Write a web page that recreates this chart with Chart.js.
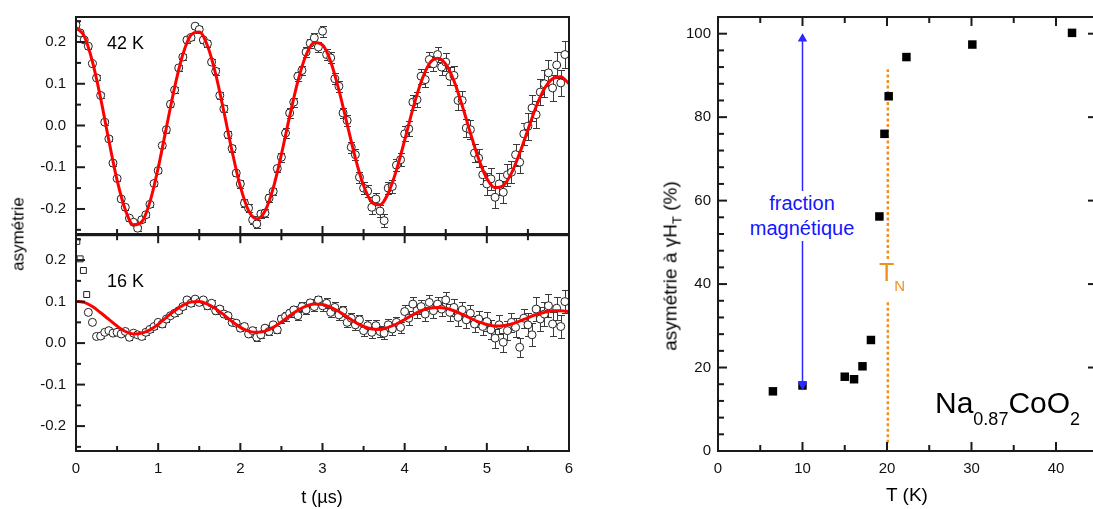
<!DOCTYPE html>
<html lang="fr">
<head>
<meta charset="UTF-8">
<title>Asymétrie µSR - Na0.87CoO2</title>
<script src="https://cdn.jsdelivr.net/npm/chart.js"></script>
<style>
  html, body { margin: 0; padding: 0; background: #fff; overflow: hidden; }
  body { width: 1093px; height: 509px; position: relative; font-family: "Liberation Sans", Arial, sans-serif; color: #000; }
  canvas { position: absolute; }
  .lbl { position: absolute; white-space: nowrap; line-height: 1; }
  .rot { transform: translate(-50%, -50%) rotate(-90deg); }
</style>
</head>
<body>
<canvas id="c42" width="580" height="240" style="left:0;top:0"></canvas>
<canvas id="c16" width="580" height="279" style="left:0;top:230px"></canvas>
<canvas id="cT" width="460" height="509" style="left:640px;top:0"></canvas>

<div class="lbl" style="left:107px;top:34px;font-size:18px">42 K</div>
<div class="lbl" style="left:107px;top:272px;font-size:18px">16 K</div>
<div class="lbl rot" style="left:18px;top:234px;font-size:17px">asymétrie</div>
<div class="lbl" style="left:322px;top:488px;font-size:18px;transform:translateX(-50%)">t (µs)</div>
<div class="lbl" style="left:907px;top:485px;font-size:19px;transform:translateX(-50%)">T (K)</div>
<div class="lbl rot" style="left:670px;top:266px;font-size:19px">asymétrie à γH<span style="font-size:13px;position:relative;top:5px">T</span> (%)</div>
<div class="lbl" style="left:879px;top:260px;font-size:25px;color:#f0901e">T<span style="font-size:15px;position:relative;top:10px">N</span></div>
<div class="lbl" style="left:802px;top:191px;font-size:20px;line-height:25px;color:#1515ff;background:#fff;text-align:center;transform:translateX(-50%)">fraction<br>magnétique</div>
<div class="lbl" style="left:935px;top:388px;font-size:30px">Na<span style="font-size:18px;position:relative;top:12px">0.87</span>CoO<span style="font-size:18px;position:relative;top:12px">2</span></div>

<script>
// ---- 42 K : asymétrie vs t (bins every 0.05 µs from t = 0) ----
const tStep = 0.05;
const asym42 = [
  0.241, 0.222, 0.205, 0.190, 0.148, 0.114, 0.072, 0.008, -0.032, -0.090,
  -0.127, -0.176, -0.196, -0.222, -0.232, -0.246, -0.226, -0.214, -0.189, -0.139,
  -0.108, -0.048, -0.010, 0.051, 0.085, 0.138, 0.164, 0.205, 0.211, 0.238,
  0.230, 0.205, 0.196, 0.152, 0.130, 0.072, 0.040, -0.022, -0.055, -0.114,
  -0.140, -0.186, -0.198, -0.226, -0.236, -0.212, -0.210, -0.174, -0.158, -0.103,
  -0.076, -0.018, 0.030, 0.056, 0.118, 0.132, 0.176, 0.197, 0.210, 0.188,
  0.226, 0.170, 0.162, 0.112, 0.094, 0.030, 0.012, -0.052, -0.070, -0.124,
  -0.150, -0.157, -0.196, -0.176, -0.205, -0.228, -0.150, -0.146, -0.095, -0.082,
  -0.020, -0.008, 0.056, 0.062, 0.118, 0.110, 0.158, 0.148, 0.170, 0.140,
  0.152, 0.118, 0.120, 0.060, 0.060, -0.006, -0.010, -0.066, -0.078, -0.118,
  -0.140, -0.128, -0.172, -0.140, -0.160, -0.118, -0.112, -0.070, -0.088, -0.020,
  -0.002, 0.042, 0.026, 0.080, 0.100, 0.126, 0.090, 0.145, 0.102, 0.170
];
// error bar half-length per 0.5 µs slice
const err42 = [0.006, 0.006, 0.007, 0.008, 0.009, 0.011, 0.013, 0.015, 0.018, 0.022, 0.026, 0.032];

// fit curves, read every 0.1 µs
const fitStep = 0.1;
const fit42 = [
  0.235, 0.214, 0.153, 0.065, -0.036, -0.131, -0.202, -0.238, -0.231, -0.183,
  -0.102, -0.005, 0.091, 0.170, 0.217, 0.224, 0.191, 0.123, 0.033, -0.062,
  -0.146, -0.204, -0.224, -0.205, -0.150, -0.069, 0.022, 0.106, 0.169, 0.199,
  0.193, 0.153, 0.085, 0.003, -0.078, -0.144, -0.184, -0.190, -0.162, -0.107,
  -0.035, 0.040, 0.104, 0.148, 0.161, 0.147, 0.107, 0.048, -0.018, -0.080,
  -0.127, -0.149, -0.144, -0.114, -0.066, -0.010, 0.045, 0.088, 0.112, 0.117,
  0.100
];

// ---- 16 K ----
const tEarly16 = [0.01, 0.05, 0.09, 0.13];      // open squares
const asymEarly16 = [0.245, 0.203, 0.175, 0.117];
const t16Start = 0.15;
const asym16 = [
  0.074, 0.050, 0.016, 0.017, 0.026, 0.030, 0.024, 0.026, 0.022, 0.028,
  0.014, 0.024, 0.020, 0.016, 0.026, 0.033, 0.040, 0.050, 0.046, 0.058,
  0.066, 0.072, 0.078, 0.088, 0.104, 0.096, 0.106, 0.098, 0.104, 0.090,
  0.096, 0.078, 0.082, 0.070, 0.066, 0.050, 0.048, 0.036, 0.040, 0.022,
  0.030, 0.014, 0.020, 0.036, 0.028, 0.044, 0.032, 0.058, 0.064, 0.072,
  0.080, 0.066, 0.088, 0.080, 0.097, 0.088, 0.104, 0.090, 0.096, 0.074,
  0.086, 0.068, 0.078, 0.050, 0.060, 0.044, 0.056, 0.030, 0.042, 0.026,
  0.042, 0.028, 0.024, 0.044, 0.034,
  0.050, 0.038, 0.076, 0.060, 0.094, 0.078, 0.088, 0.070, 0.098, 0.078,
  0.094, 0.082, 0.104, 0.074, 0.086, 0.062, 0.080, 0.056, 0.072, 0.046,
  0.058, 0.040, 0.052, 0.032, 0.012, 0.044, 0.002, 0.030, 0.050, 0.038,
  -0.010, 0.060, 0.044, 0.020, 0.082, 0.058, 0.070, 0.090, 0.046, 0.084,
  0.040, 0.100
];
const err16 = [0.005, 0.006, 0.006, 0.007, 0.008, 0.010, 0.012, 0.014, 0.017, 0.020, 0.023, 0.028];
const fit16 = [
  0.101, 0.098, 0.088, 0.073, 0.057, 0.041, 0.028, 0.022, 0.024, 0.032,
  0.045, 0.062, 0.078, 0.091, 0.099, 0.100, 0.094, 0.083, 0.068, 0.052,
  0.038, 0.029, 0.026, 0.029, 0.038, 0.051, 0.066, 0.079, 0.089, 0.094,
  0.093, 0.086, 0.076, 0.063, 0.050, 0.040, 0.034, 0.033, 0.038, 0.046,
  0.057, 0.068, 0.078, 0.084, 0.086, 0.084, 0.078, 0.069, 0.060, 0.051,
  0.045, 0.041, 0.042, 0.046, 0.053, 0.061, 0.069, 0.074, 0.078, 0.078,
  0.076
];

// ---- right panel: asymétrie à gamma H_T (%) vs T (K) ----
const tempK = [6.5, 10.0, 15.0, 16.1, 17.1, 18.1, 19.1, 19.7, 20.2, 22.3, 30.1, 41.9];
const fracPct = [14.3, 15.7, 17.8, 17.2, 20.3, 26.6, 56.2, 76.0, 85.0, 94.4, 97.4, 100.2];
const tNeel = 20.1;
const neelLow = [2, 36];      // dotted segment below the T_N label
const neelHigh = [46, 91.5];  // dotted segment above it
const arrowT = 10;
const arrowY = [15.9, 98.8];

Chart.defaults.font.family = '"Liberation Sans", Arial, sans-serif';
Chart.defaults.color = '#111';

// vertical error bars, drawn through the scales
const errorBars = {
  id: 'errorBars',
  beforeDatasetsDraw(chart) {
    const { ctx, chartArea: a, scales: { x, y } } = chart;
    ctx.save();
    ctx.beginPath();
    ctx.rect(a.left, a.top, a.right - a.left, a.bottom - a.top);
    ctx.clip();
    ctx.strokeStyle = '#3a3a3a';
    ctx.lineWidth = 1;
    chart.data.datasets.forEach(ds => {
      if (!ds.errTable) return;
      ds.data.forEach(p => {
        const e = ds.errTable[Math.min(ds.errTable.length - 1, Math.floor(p.x / 0.5))];
        const px = Math.round(x.getPixelForValue(p.x)) + 0.5;
        const y1 = Math.round(y.getPixelForValue(p.y - e)) + 0.5;
        const y2 = Math.round(y.getPixelForValue(p.y + e)) + 0.5;
        ctx.beginPath();
        ctx.moveTo(px, y1); ctx.lineTo(px, y2);
        ctx.moveTo(px - 3.5, y1); ctx.lineTo(px + 3.5, y1);
        ctx.moveTo(px - 3.5, y2); ctx.lineTo(px + 3.5, y2);
        ctx.stroke();
      });
    });
    ctx.restore();
  }
};

// box frame plus inward major/minor ticks
const frameTicks = {
  id: 'frameTicks',
  afterDatasetsDraw(chart, args, opts) {
    const { ctx, chartArea: a } = chart;
    ctx.save();
    ctx.strokeStyle = '#1a1a1a';
    ctx.lineWidth = 2;
    ctx.strokeRect(a.left, a.top, a.right - a.left, a.bottom - a.top);
    (opts.marks || []).forEach(m => {
      const sc = chart.scales[m.axis];
      const ratio = Math.round(m.major / m.minor);
      const n0 = Math.ceil(m.from / m.minor - 1e-9), n1 = Math.floor(m.to / m.minor + 1e-9);
      for (let n = n0; n <= n1; n++) {
        const len = n % ratio === 0 ? m.majorLen : m.minorLen;
        const p = sc.getPixelForValue(n * m.minor);
        ctx.beginPath();
        if (m.side === 'bottom') { ctx.moveTo(p, a.bottom); ctx.lineTo(p, a.bottom - len); }
        if (m.side === 'top') { ctx.moveTo(p, a.top); ctx.lineTo(p, a.top + len); }
        if (m.side === 'left') { ctx.moveTo(a.left, p); ctx.lineTo(a.left + len, p); }
        if (m.side === 'right') { ctx.moveTo(a.right, p); ctx.lineTo(a.right - len, p); }
        ctx.stroke();
      }
    });
    ctx.restore();
  }
};

// fixed axis sizes so the plot boxes land where they are in the figure
const fixX = h => s => { s.height = h; s.paddingLeft = 0; s.paddingRight = 0; };
const fixY = w => s => { s.width = w; s.paddingTop = 0; s.paddingBottom = 0; };

function leftChart(id, scatterSets, fit, showX, padding, marks) {
  const datasets = [{
    data: fit.map((v, i) => ({ x: i * fitStep, y: v })),
    showLine: true, pointRadius: 0, borderColor: '#ff0000', borderWidth: 3,
    cubicInterpolationMode: 'monotone', order: 0
  }].concat(scatterSets);
  return new Chart(document.getElementById(id), {
    type: 'scatter',
    data: { datasets },
    plugins: [errorBars, frameTicks],
    options: {
      responsive: false, animation: false,
      layout: { padding },
      plugins: { legend: { display: false }, tooltip: { enabled: false }, frameTicks: { marks } },
      scales: {
        x: {
          type: 'linear', min: 0, max: 6, display: showX,
          grid: { display: false, drawTicks: false }, border: { display: false },
          ticks: { stepSize: 1, includeBounds: false, font: { size: 15 }, padding: 9, color: '#111' },
          afterFit: fixX(showX ? 58 : 0)
        },
        y: {
          min: -0.26, max: 0.26,
          grid: { display: false, drawTicks: false }, border: { display: false },
          ticks: { stepSize: 0.1, includeBounds: false, font: { size: 15 }, padding: 10, color: '#111',
                   callback: v => v.toFixed(1) },
          afterFit: fixY(76)
        }
      }
    }
  });
}

const circleStyle = {
  pointStyle: 'circle', pointRadius: 4, pointBorderWidth: 1,
  pointBorderColor: '#222', pointBackgroundColor: '#fff', order: 1
};
const yTicksLeft = { axis: 'y', side: 'left', major: 0.1, minor: 0.05, from: -0.25, to: 0.25, majorLen: 9, minorLen: 5 };

leftChart('c42', [
  Object.assign({ data: asym42.map((v, i) => ({ x: i * tStep, y: v })), errTable: err42 }, circleStyle)
], fit42, false, { top: 17, right: 11, bottom: 6, left: 0 }, [
  yTicksLeft,
  { axis: 'x', side: 'bottom', major: 1, minor: 0.5, from: 0.5, to: 5.5, majorLen: 8, minorLen: 5 }
]);

leftChart('c16', [
  Object.assign({ data: asym16.map((v, i) => ({ x: t16Start + i * tStep, y: v })), errTable: err16 }, circleStyle),
  { data: tEarly16.map((t, i) => ({ x: t, y: asymEarly16[i] })), pointStyle: 'rect', pointRadius: 4.2,
    pointBorderWidth: 1, pointBorderColor: '#222', pointBackgroundColor: '#fff', order: 1 }
], fit16, true, { top: 4, right: 11, bottom: 0, left: 0 }, [
  yTicksLeft,
  { axis: 'x', side: 'top', major: 1, minor: 0.5, from: 0.5, to: 5.5, majorLen: 8, minorLen: 5 },
  { axis: 'x', side: 'bottom', major: 1, minor: 0.5, from: 0.5, to: 5.5, majorLen: 8, minorLen: 5 }
]);

new Chart(document.getElementById('cT'), {
  type: 'scatter',
  data: {
    datasets: [
      { // double arrow "fraction magnétique"
        data: arrowY.map(y => ({ x: arrowT, y })),
        showLine: true, borderColor: '#2a2aff', borderWidth: 1.5,
        pointStyle: 'triangle', pointRadius: 4, pointRotation: [180, 0],
        pointBackgroundColor: '#2a2aff', pointBorderColor: '#2a2aff', order: 0
      },
      {
        data: tempK.map((t, i) => ({ x: t, y: fracPct[i] })),
        pointStyle: 'rect', pointRadius: 6, pointBackgroundColor: '#000', pointBorderColor: '#000',
        pointBorderWidth: 0, order: 1
      },
      {
        data: neelLow.map(y => ({ x: tNeel, y })), showLine: true, pointRadius: 0,
        borderColor: '#f0901e', borderWidth: 2.5, borderDash: [3, 2.5], order: 2
      },
      {
        data: neelHigh.map(y => ({ x: tNeel, y })), showLine: true, pointRadius: 0,
        borderColor: '#f0901e', borderWidth: 2.5, borderDash: [3, 2.5], order: 2
      }
    ]
  },
  plugins: [frameTicks],
  options: {
    responsive: false, animation: false,
    layout: { padding: { top: 17, right: 6, bottom: 0, left: 0 } },
    plugins: {
      legend: { display: false }, tooltip: { enabled: false },
      frameTicks: { marks: [
        { axis: 'y', side: 'left', major: 20, minor: 4, from: 4, to: 104, majorLen: 9, minorLen: 6 },
        { axis: 'y', side: 'right', major: 20, minor: 20, from: 20, to: 100, majorLen: 6, minorLen: 6 },
        { axis: 'x', side: 'bottom', major: 10, minor: 5, from: 5, to: 40, majorLen: 9, minorLen: 6 },
        { axis: 'x', side: 'top', major: 10, minor: 5, from: 5, to: 40, majorLen: 9, minorLen: 6 }
      ] }
    },
    scales: {
      x: {
        type: 'linear', min: 0, max: 44.5,
        grid: { display: false, drawTicks: false }, border: { display: false },
        ticks: { stepSize: 10, includeBounds: false, font: { size: 15 }, padding: 9, color: '#111' },
        afterFit: fixX(58)
      },
      y: {
        min: 0, max: 104,
        grid: { display: false, drawTicks: false }, border: { display: false },
        ticks: { stepSize: 20, includeBounds: false, font: { size: 15 }, padding: 7, color: '#111' },
        afterFit: fixY(78)
      }
    }
  }
});
</script>
</body>
</html>
